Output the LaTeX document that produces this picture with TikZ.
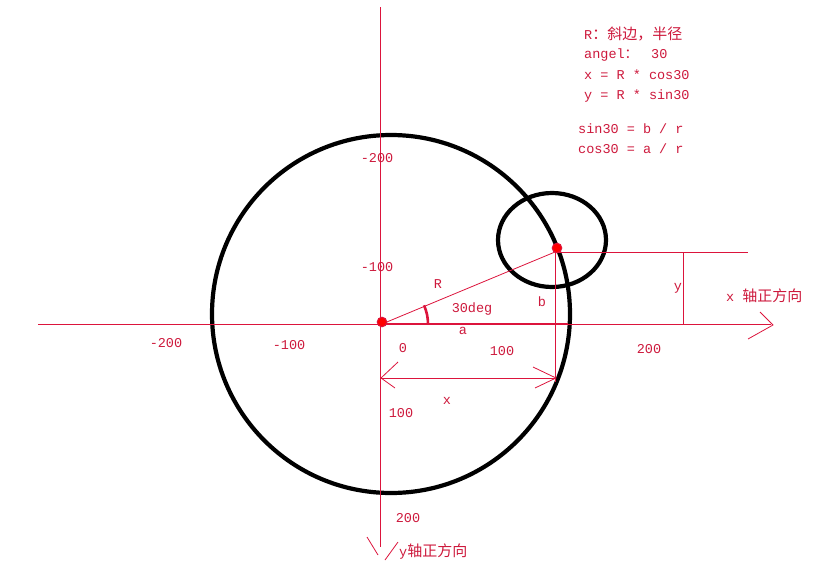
\documentclass[tikz,border=0pt]{standalone}
\usepackage{fontspec}
\setmainfont{Liberation Mono}
\newfontfamily\cjk{Noto Sans CJK SC}
\definecolor{axred}{RGB}{220,20,60}
\definecolor{txred}{RGB}{205,25,60}
\begin{document}
\begin{tikzpicture}[x=1pt,y=-1pt,
  thin line/.style={draw=axred,line width=0.8pt},
  thick red/.style={draw=axred,line width=2.6pt},
  circ/.style={draw=black,line width=4.2pt},
  lbl/.style={text=txred,font=\fontsize{13.5}{14}\selectfont,inner sep=0pt},
  note/.style={text=txred,font=\fontsize{13.5}{14}\selectfont,inner sep=0pt,anchor=west},
  dot/.style={fill=red,draw=axred,line width=1pt}]
\useasboundingbox (0,0) rectangle (830,581);
% coordinates
\coordinate (O) at (382,324);
\coordinate (P) at (555,252);
\coordinate (xl) at (38,324);
\coordinate (xr) at (771,324);
\coordinate (yt) at (380,7);
\coordinate (yb) at (380,547);
% circles
\draw[circ] (391,314) circle[radius=179];
\draw[circ] (552,240) ellipse[x radius=54,y radius=47];
% axes
\draw[thin line] (xl) -- (xr);
\draw[thin line] (760,312) -- (773,325) -- (748,339);
\draw[thin line] (yt) -- (yb);
\draw[thin line] (367,537) -- (378,555);
\draw[thin line] (398,542) -- (385,560);
% construction lines
\draw[thin line] (O) -- (P);
\coordinate (Pr) at (748,252);
\draw[thin line] (P) -- (Pr);
\draw[thin line] (683,252) -- (683,325);
\coordinate (Pd) at (555,382);
\draw[thin line] (P) -- (Pd);
\draw[thick red] (O) -- (568,324);
\draw[thick red] ([shift={(0:46)}]O) arc[start angle=0,end angle=-24,radius=46];
% dimension x
\coordinate (dl) at (381,378);
\coordinate (dr) at (556,378);
\draw[thin line] (dl) -- (dr);
\draw[thin line] (398,362) -- (dl) -- (395,388);
\draw[thin line] (533,367) -- (dr) -- (535,388);
% dots
\draw[dot] (382,322) circle[radius=4.8];
\draw[dot] (557,248) circle[radius=4.8];
% axis labels
\node[lbl] (t1) at (377,158) {-200};
\node[lbl] (t2) at (377,267) {-100};
\node[lbl] (t3) at (166,343) {-200};
\node[lbl] (t4) at (289,345) {-100};
\node[lbl] (t5) at (403,348) {0};
\node[lbl] (t6) at (502,351) {100};
\node[lbl] (t7) at (649,349) {200};
\node[lbl] (t8) at (401,413) {100};
\node[lbl] (t9) at (408,518) {200};
\node[lbl] (lx) at (447,401) {x};
\node[lbl] (lR) at (438,284) {R};
\node[lbl] (ldeg) at (472,309) {30deg};
\node[lbl] (la) at (463,331) {a};
\node[lbl] (lb) at (542,302) {b};
\node[lbl] (ly) at (678,288) {y};
\node[lbl,anchor=west] (xdir) at (726,296) {x {\cjk\fontsize{15}{16}\selectfont 轴正方向}};
\node[lbl,anchor=west] (ydir) at (399,552) {y{\cjk\fontsize{15}{16}\selectfont 轴正方向}};
% notes
\node[note] (n1) at (584,34) {R{\cjk\fontsize{15}{16}\selectfont ：斜边，半径}};
\node[note] (n2) at (584,55) {angel{\cjk\fontsize{13.5}{14}\selectfont ：}\hspace{13pt}30};
\node[note] (n3) at (584,75) {x = R * cos30};
\node[note] (n4) at (584,96) {y = R * sin30};
\node[note] (n5) at (578,129) {sin30 = b / r};
\node[note] (n6) at (578,149) {cos30 = a / r};
\end{tikzpicture}
\end{document}
